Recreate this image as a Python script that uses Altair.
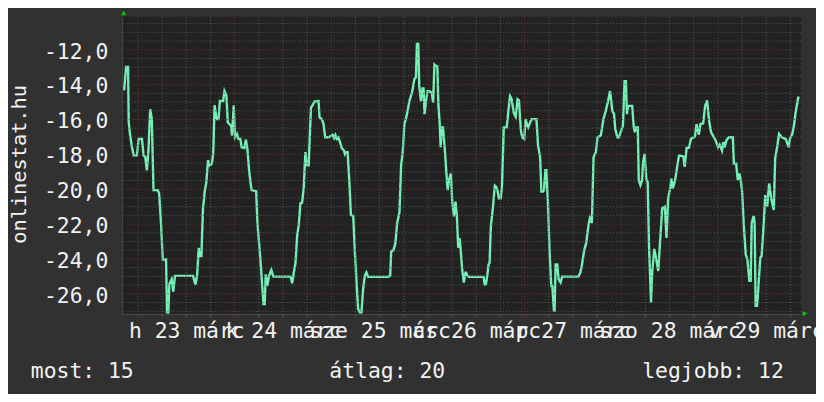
import json
import altair as alt
import pandas as pd

# ---- data (hours since Mon 23 Mar 00:00, temperature) ----
hours_a = [-3.44, -2.95, -2.46, -2.30, -1.89, -1.48, -1.07, -0.25, 0.16, 0.98, 1.39, 1.80, 2.21, 2.62, 3.03, 3.44,
           3.85, 4.92, 5.25, 5.74, 6.15, 6.97, 7.21, 7.54, 7.79, 8.36, 8.77, 9.18, 13.69, 14.26, 14.67, 15.08, 15.41,
           15.74, 16.15, 16.56, 16.97, 17.38, 17.87, 18.36, 18.69, 19.02, 19.51, 20.0, 20.33, 21.15, 21.48, 21.97,
           22.30, 23.11, 23.36, 23.77, 24.10, 24.59, 24.92, 25.41, 25.74, 26.39, 26.80, 27.21, 27.62, 28.20, 29.34,
           29.67, 30.33, 30.74, 31.15, 31.48, 31.72, 32.13, 32.54, 33.11, 33.61, 37.87]
temps_a = [-14.33, -12.98, -12.98, -16.17, -17.02, -17.59, -18.06, -18.06, -17.11, -17.11, -18.06, -18.16, -18.91,
           -17.68, -15.41, -15.98, -20.05, -20.05, -20.24, -22.04, -24.03, -24.03, -27.06, -27.06, -25.45, -25.16,
           -25.88, -24.97, -24.97, -25.47, -24.97, -23.36, -23.84, -23.84, -21.09, -20.14, -19.61, -18.34, -18.63,
           -18.53, -17.87, -15.18, -15.98, -15.98, -14.94, -14.94, -14.37, -14.65, -16.17, -16.36, -16.92, -15.18,
           -17.02, -16.83, -17.11, -17.11, -17.59, -17.63, -17.15, -17.78, -19.01, -20.05, -20.11, -21.94, -23.84,
           -25.16, -26.58, -26.58, -24.88, -25.54, -24.97, -24.63, -25.01, -25.01]

hours_b = [38.28, 38.69, 39.10, 39.51, 39.92, 40.33, 40.74, 41.15, 41.56, 41.97, 42.38, 42.62, 42.95, 43.28, 43.77,
           44.84, 45.08, 45.66, 46.07, 46.48, 47.30, 48.36, 48.69, 49.02, 49.34, 49.75, 50.16, 50.57, 51.15, 51.39,
           51.80, 52.05, 52.46, 52.87, 53.44, 53.85, 54.26, 54.67, 55.08, 55.49, 55.90, 56.31, 56.72, 57.13, 62.05,
           62.62, 62.87, 63.44, 63.93, 64.34, 64.92, 65.33, 65.74, 66.15, 66.56, 66.97, 67.38, 67.79, 68.20, 68.61,
           69.02, 69.26, 69.59, 69.84, 70.25, 70.66, 70.90, 71.15, 71.48, 71.89, 72.30, 72.95, 73.28, 73.61, 74.10,
           74.34, 74.59, 74.92, 75.16, 75.41, 75.74, 76.23, 76.56, 76.89, 77.21, 77.70, 78.03, 78.44, 78.85, 79.18,
           79.51, 79.84, 80.08, 80.49, 80.90, 81.31]
temps_b = [-25.39, -24.78, -24.25, -22.70, -22.04, -20.81, -20.77, -19.95, -17.87, -18.63, -18.63, -17.21, -15.31,
           -15.22, -14.97, -14.94, -15.88, -15.98, -16.26, -17.02, -17.02, -16.89, -17.06, -16.89, -17.11, -17.02,
           -17.30, -17.63, -17.78, -18.0, -17.87, -17.87, -19.48, -21.47, -21.53, -23.55, -25.35, -26.87, -27.06,
           -27.06, -25.73, -24.97, -24.78, -25.03, -25.03, -24.97, -23.55, -23.50, -23.08, -21.94, -21.34, -18.63,
           -17.87, -16.26, -15.92, -15.50, -14.94, -14.65, -14.27, -13.70, -13.57, -11.66, -11.66, -14.08, -14.94,
           -14.22, -14.22, -15.69, -15.03, -14.37, -14.37, -14.46, -15.03, -12.85, -12.95, -12.95, -15.13, -16.26,
           -17.59, -16.45, -16.45, -17.87, -19.01, -20.05, -19.48, -19.10, -20.71, -21.56, -20.71, -21.56, -23.36,
           -22.80, -23.36, -24.59, -25.35, -24.78]

hours_c = [81.48, 81.80, 82.13, 85.82, 86.07, 86.39, 86.72, 87.05, 87.30, 87.62, 88.11, 88.36, 88.61, 89.02, 89.26,
           89.59, 90.08, 90.41, 90.82, 91.56, 91.97, 92.38, 92.79, 93.28, 93.77, 94.26, 94.59, 95.08, 95.41, 95.90,
           96.23, 96.56, 96.89, 97.70, 98.93, 99.34, 99.84, 100.16, 100.57, 100.82, 101.15, 101.39, 101.80, 102.21,
           102.62, 102.87, 103.28, 103.44, 103.69, 104.10, 104.43, 104.92, 105.33, 109.34, 109.84, 110.25, 110.82,
           111.31, 111.64, 111.97, 112.21, 112.70, 113.11, 113.69, 114.10, 114.92, 115.57, 116.15, 116.72, 117.21,
           117.79, 118.20, 118.52, 119.02, 119.43, 119.84, 120.41, 120.82, 121.15, 121.39, 121.72, 122.70, 123.11]
temps_c = [-24.78, -24.97, -25.03, -25.03, -25.45, -25.45, -24.97, -24.31, -24.22, -22.13, -21.09, -20.43, -19.80,
           -19.90, -20.05, -20.52, -20.52, -19.67, -16.45, -16.45, -15.50, -14.65, -14.84, -15.60, -15.84, -14.84,
           -14.90, -16.64, -17.02, -17.11, -15.98, -16.26, -16.45, -15.98, -15.98, -17.49, -18.16, -20.14, -20.14,
           -20.05, -18.91, -18.91, -20.81, -23.65, -25.54, -25.54, -26.96, -26.96, -24.31, -24.31, -25.16, -25.35,
           -25.01, -25.01, -24.78, -24.31, -23.46, -23.08, -22.42, -21.94, -21.66, -21.94, -18.16, -17.87, -17.02,
           -16.92, -15.98, -15.50, -14.94, -14.37, -15.50, -15.69, -16.55, -17.02, -17.02, -16.73, -16.36, -13.80,
           -13.80, -15.69, -15.22, -15.22, -16.45]

hours_d = [123.36, 123.69, 124.10, 124.34, 124.75, 125.16, 125.41, 125.82, 126.23, 126.56, 126.89, 127.38, 127.70,
           128.20, 128.61, 129.18, 129.67, 130.16, 130.82, 131.23, 131.64, 132.13, 132.46, 132.79, 133.36, 133.93,
           134.34, 135.41, 135.74, 136.23, 136.80, 137.30, 138.28, 138.69, 139.26, 139.67, 140.33, 140.82, 141.31,
           141.80, 142.30, 143.03, 143.61, 144.02, 144.43, 145.0, 145.33, 145.66, 146.07, 146.72, 147.70, 147.95,
           148.52, 148.93, 149.34, 149.67, 150.0, 150.41, 150.90, 151.31, 151.80, 152.13, 152.38, 152.87, 153.11,
           153.36, 153.69, 153.93, 154.51, 154.84, 155.33, 155.74, 156.23, 156.72, 157.30, 157.87, 158.20, 158.69,
           159.18, 159.84, 160.82, 161.56, 161.89, 162.46, 162.87, 163.28, 163.93, 164.26]
temps_d = [-16.73, -16.45, -16.45, -19.48, -19.77, -19.48, -18.44, -17.97, -19.48, -19.58, -23.27, -26.49, -24.69,
           -23.42, -23.93, -24.69, -22.89, -21.09, -21.0, -22.80, -20.52, -19.95, -19.39, -19.95, -19.48, -18.63,
           -18.06, -18.12, -18.72, -17.63, -17.63, -17.11, -16.98, -16.26, -16.87, -16.26, -16.22, -15.22, -14.90,
           -16.07, -16.73, -17.02, -17.30, -17.59, -17.44, -17.78, -17.30, -17.59, -17.21, -17.02, -17.02, -18.53,
           -18.53, -19.48, -19.10, -19.48, -20.14, -22.04, -23.74, -24.03, -25.26, -25.26, -21.94, -21.53, -21.94,
           -26.68, -26.68, -26.02, -23.93, -23.84, -22.13, -20.33, -21.0, -19.67, -20.62, -21.19, -18.25, -17.59,
           -16.83, -17.02, -17.11, -17.59, -17.11, -16.83, -16.36, -15.60, -14.75, -14.75]

day_labels = ["h 23 márc", "k 24 márc", "sze 25 márc", "cs 26 márc", "p 27 márc", "szo 28 márc", "v 29 márc"]
y_tick_values = [-26, -24, -22, -20, -18, -16, -14, -12]
stat_names = ["most", "átlag", "legjobb"]
stat_values = [15, 20, 12]
site_name = "onlinestat.hu"

# ---- styling ----
FONT = "DejaVu Sans Mono"
FS = 21.6
TXT = "#f2f2f2"
LINE = "#74f0b6"
W, H = 686, 300
X_DOM = [-4.0, 164.66]
Y_DOM = [-27.15, -10.11]

line_df = pd.DataFrame({
    "h": hours_a + hours_b + hours_c + hours_d,
    "v": temps_a + temps_b + temps_c + temps_d,
})

xs = alt.Scale(domain=X_DOM, nice=False, zero=False)
ys = alt.Scale(domain=Y_DOM, nice=False, zero=False)

label_hours = [12 + 24 * i for i in range(len(day_labels))]
x_label_expr = json.dumps(day_labels, ensure_ascii=False) + "[floor(datum.value / 24)]"
y_label_expr = "(datum.value < 0 ? '-' : '') + replace(format(abs(datum.value), '.1f'), '.', ',')"

x_axis = alt.Axis(values=label_hours, labelExpr=x_label_expr, labelFont=FONT, labelFontSize=FS,
                  labelColor=TXT, labelBaseline="alphabetic", labelPadding=23.5, labelOverlap=False,
                  labelBound=False, labelFlush=False, ticks=False, grid=False, domain=True,
                  domainColor="#4a4a4a", domainWidth=1, title=None)
y_axis = alt.Axis(values=y_tick_values, labelExpr=y_label_expr, labelFont=FONT, labelFontSize=FS,
                  labelColor=TXT, labelAlign="right", labelBaseline="alphabetic", labelOffset=8.4,
                  labelPadding=14.2, labelOverlap=False, labelBound=False, labelFlush=False, ticks=False,
                  grid=False, domain=True, domainColor="#4a4a4a", domainWidth=1,
                  title=site_name, titleFont=FONT, titleFontSize=20.5, titleFontWeight="normal",
                  titleColor=TXT, titleAngle=270, titleAlign="center", titleBaseline="alphabetic",
                  titleX=-97.5, titleY=148.5)

X = lambda: alt.X("h:Q", scale=xs, axis=x_axis)
Y = lambda: alt.Y("v:Q", scale=ys, axis=y_axis)

# grid positions (derived)
minor_h = [h for h in range(6, 165, 6) if h % 24 != 0]
major_h = [h for h in range(0, 165, 24)]
minor_v = [v / 2 for v in range(-54, -20) if v % 4 != 0]
major_v = y_tick_values

grid_minor_x = alt.Chart(pd.DataFrame({"h": minor_h})).mark_rule(
    color="#5a5a5a", strokeDash=[1, 2], strokeWidth=1).encode(x=X())
grid_major_x = alt.Chart(pd.DataFrame({"h": major_h})).mark_rule(
    color="#7a3232", strokeDash=[1, 2], strokeWidth=1).encode(x=X())
grid_minor_y = alt.Chart(pd.DataFrame({"v": minor_v})).mark_rule(
    color="#5a5a5a", strokeDash=[1, 2], strokeWidth=1).encode(y=Y())
grid_major_y = alt.Chart(pd.DataFrame({"v": major_v})).mark_rule(
    color="#7a3232", strokeDash=[1, 2], strokeWidth=1).encode(y=Y())

tick_minor = alt.Chart(pd.DataFrame({"h": minor_h})).mark_rule(color="#5a5a5a").encode(
    x=X(), y=alt.value(H), y2=alt.value(H + 3))
tick_major = alt.Chart(pd.DataFrame({"h": major_h})).mark_rule(color="#7a3232").encode(
    x=X(), y=alt.value(H), y2=alt.value(H + 3))

line = alt.Chart(line_df).mark_line(color=LINE, strokeWidth=2.4, interpolate="linear", clip=True).encode(
    x=X(), y=Y())

arrow_up = alt.Chart(pd.DataFrame({"a": [0]})).mark_point(
    shape="triangle-up", filled=True, color="#00cc00", size=28, opacity=1).encode(
    x=alt.value(1.8), y=alt.value(-4.0))
arrow_right = alt.Chart(pd.DataFrame({"a": [0]})).mark_point(
    shape="triangle-right", filled=True, color="#00cc00", size=28, opacity=1).encode(
    x=alt.value(W + 3.8), y=alt.value(H - 0.3))

stat_x = [-92, 209.5, 525.5]
stat_layers = []
for name, val, px in zip(stat_names, stat_values, stat_x):
    stat_layers.append(
        alt.Chart(pd.DataFrame({"t": [f"{name}: {val}"]})).mark_text(
            font=FONT, fontSize=FS, color=TXT, align="left", baseline="alphabetic").encode(
            text="t:N", x=alt.value(px), y=alt.value(365))
    )

chart = alt.layer(
    line, grid_minor_x, grid_minor_y, grid_major_x, grid_major_y, tick_minor, tick_major,
    arrow_up, arrow_right, *stat_layers
).properties(
    width=W, height=H,
    background="#313131",
    autosize=alt.AutoSizeParams(type="none"),
    padding={"left": 115, "top": 7, "right": 15, "bottom": 79},
).configure_view(fill="#222222", stroke=None)

chart.save("out.html", embed_options={"renderer": "svg", "actions": False})
